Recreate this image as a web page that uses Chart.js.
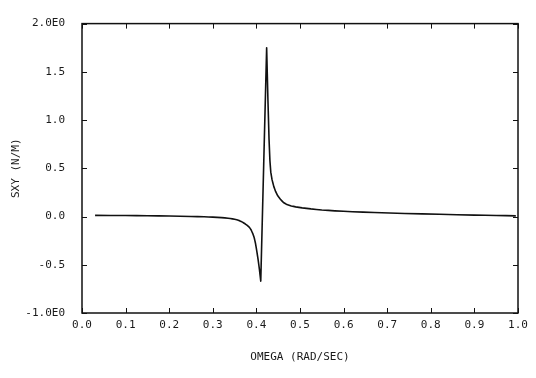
<!DOCTYPE html>
<html>
<head>
<meta charset="utf-8">
<script src="https://cdn.jsdelivr.net/npm/chart.js@4.4.1/dist/chart.umd.min.js"></script>
<style>
  html, body { margin: 0; padding: 0; background: #fff; }
  #wrap { width: 536px; height: 378px; }
</style>
</head>
<body>
<div id="wrap"><canvas id="sxyChart" width="536" height="378"></canvas></div>
<script>
// frequency (rad/sec) and SXY (N/M)
const omega = [0.03, 0.1, 0.15, 0.2, 0.25, 0.28, 0.3, 0.32, 0.335, 0.345, 0.355, 0.362, 0.368,
  0.374, 0.379, 0.384, 0.388, 0.392, 0.395, 0.398, 0.401, 0.404, 0.407, 0.41,
  0.4235, 0.4265, 0.429, 0.431, 0.433, 0.436, 0.44, 0.444, 0.449, 0.455, 0.462, 0.47,
  0.48, 0.49, 0.505, 0.525, 0.55, 0.58, 0.62, 0.67, 0.74, 0.82, 0.9, 0.95, 0.995];
const sxy = [0.012, 0.01, 0.008, 0.005, 0.001, -0.003, -0.006, -0.011, -0.017, -0.024, -0.034, -0.045, -0.058,
  -0.075, -0.092, -0.112, -0.14, -0.18, -0.22, -0.28, -0.36, -0.45, -0.55, -0.67,
  1.75, 1.2, 0.8, 0.58, 0.46, 0.38, 0.31, 0.26, 0.215, 0.18, 0.145, 0.124,
  0.11, 0.1, 0.09, 0.079, 0.068, 0.059, 0.05, 0.042, 0.032, 0.023, 0.015, 0.011, 0.007];

const xTicks = [0, 0.1, 0.2, 0.3, 0.4, 0.5, 0.6, 0.7, 0.8, 0.9, 1.0];
const yTicks = [-1, -0.5, 0, 0.5, 1, 1.5, 2];

const FONT = { family: '"DejaVu Sans Mono", monospace', size: 11 };
const INK = '#1a1a1a';

// box around the plot + inward tick marks on all four sides
const frame = {
  id: 'frame',
  afterDatasetsDraw(chart) {
    const { ctx, chartArea: a, scales: { x, y } } = chart;
    ctx.save();
    ctx.strokeStyle = '#111';
    ctx.lineWidth = 1.5;
    ctx.strokeRect(a.left, a.top, a.right - a.left, a.bottom - a.top);
    ctx.lineWidth = 1;
    ctx.beginPath();
    x.ticks.forEach(t => {
      const px = Math.round(x.getPixelForValue(t.value)) + 0.5;
      ctx.moveTo(px, a.bottom); ctx.lineTo(px, a.bottom - 5);
      ctx.moveTo(px, a.top); ctx.lineTo(px, a.top + 5);
    });
    y.ticks.forEach(t => {
      const py = Math.round(y.getPixelForValue(t.value)) + 0.5;
      ctx.moveTo(a.left, py); ctx.lineTo(a.left + 5, py);
      ctx.moveTo(a.right, py); ctx.lineTo(a.right - 5, py);
    });
    ctx.stroke();
    ctx.restore();
  }
};

new Chart(document.getElementById('sxyChart'), {
  type: 'line',
  data: {
    datasets: [{
      data: omega.map((w, i) => ({ x: w, y: sxy[i] })),
      borderColor: '#111',
      borderWidth: 1.6,
      borderJoinStyle: 'round',
      pointRadius: 0,
      fill: false,
      tension: 0.001 // tiny tension: keeps straight segments but avoids the fast-path drawing
    }]
  },
  options: {
    responsive: false,
    animation: false,
    layout: { padding: { top: 15, right: 18, left: 0, bottom: 0 } },
    plugins: { legend: { display: false }, tooltip: { enabled: false } },
    scales: {
      x: {
        type: 'linear',
        min: 0,
        max: 1,
        afterFit: s => { s.height = 65; },
        afterBuildTicks: s => { s.ticks = xTicks.map(v => ({ value: v })); },
        grid: { display: false, drawTicks: false },
        border: { display: false },
        ticks: {
          font: FONT, color: INK, padding: 6, maxRotation: 0, autoSkip: false,
          callback: v => v.toFixed(1)
        },
        title: {
          display: true, text: 'OMEGA (RAD/SEC)', font: FONT, color: INK,
          padding: { top: 0, bottom: 14 }
        }
      },
      y: {
        min: -1,
        max: 2,
        afterFit: s => { s.width = 82; },
        afterBuildTicks: s => { s.ticks = yTicks.map(v => ({ value: v })); },
        grid: { display: false, drawTicks: false },
        border: { display: false },
        ticks: {
          font: FONT, color: INK, padding: 17,
          callback: v => (v === 2 || v === -1) ? v.toFixed(1) + 'E0' : v.toFixed(1)
        },
        title: {
          display: true, text: 'SXY (N/M)', font: FONT, color: INK,
          padding: { top: 10, bottom: 0 }
        }
      }
    }
  },
  plugins: [frame]
});
</script>
</body>
</html>
